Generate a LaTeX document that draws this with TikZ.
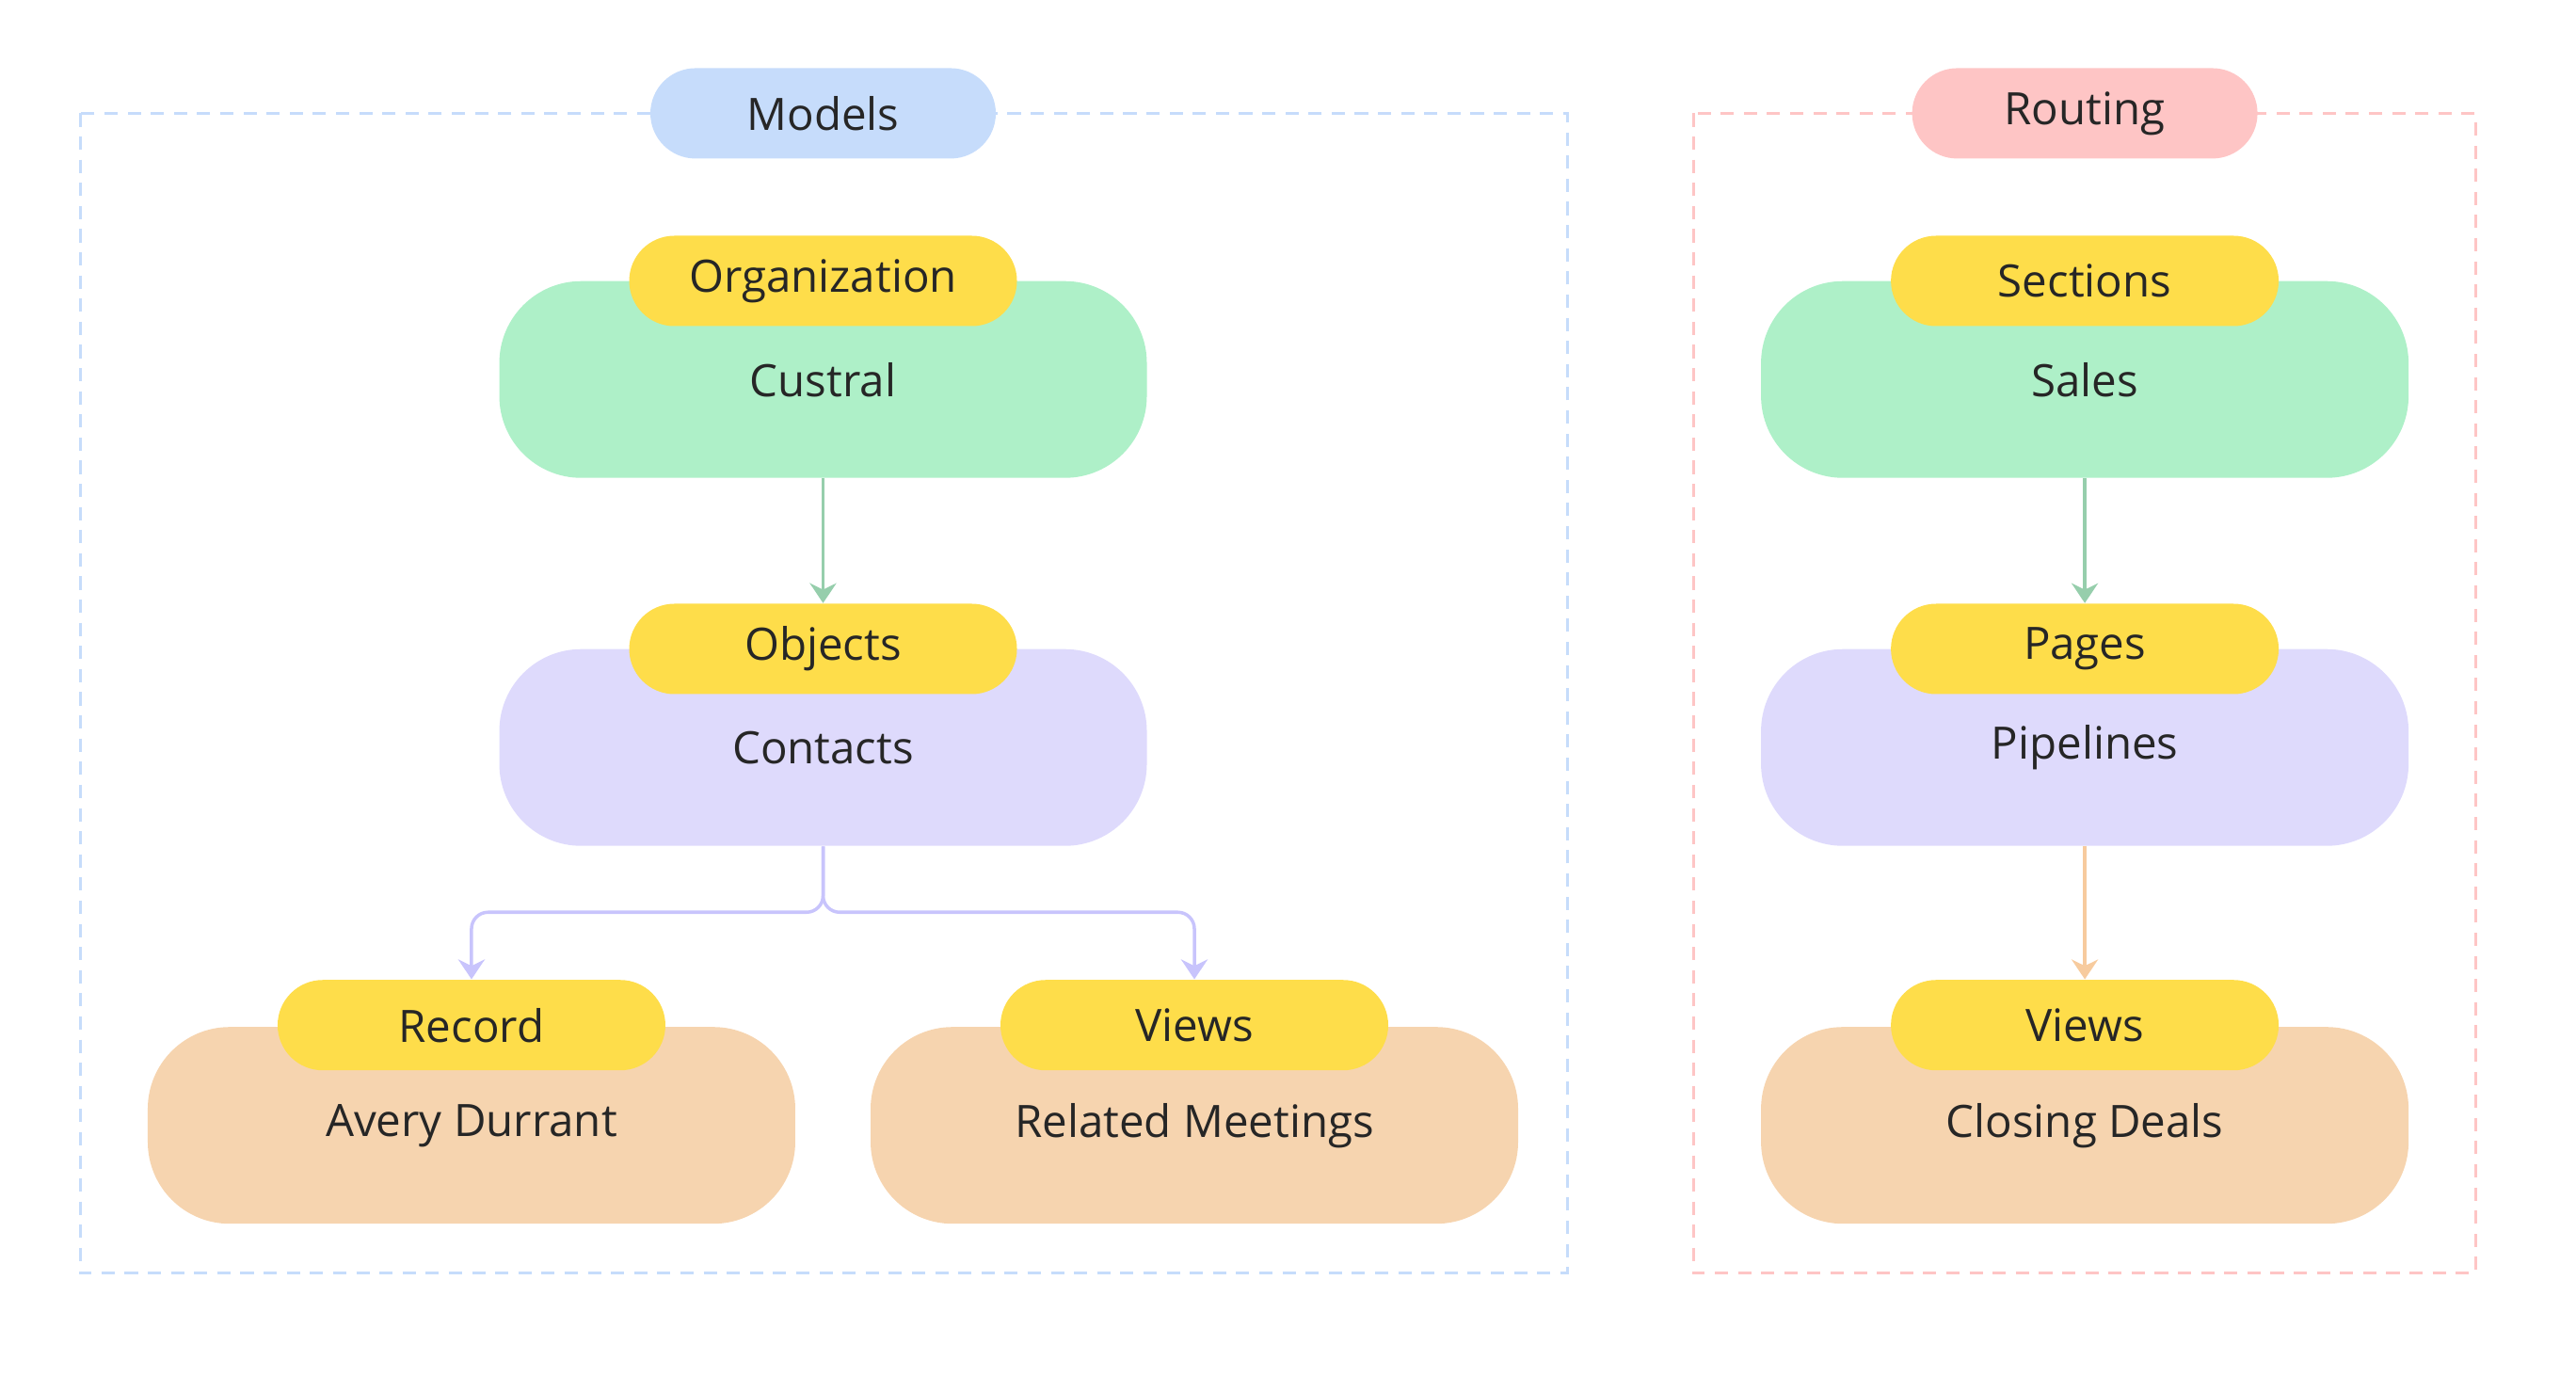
\documentclass[tikz,border=0pt]{standalone}
\usepackage{fontspec}
\setmainfont{Open Sans}
\usetikzlibrary{arrows.meta}
\definecolor{grpblue}{HTML}{C6DCFB}
\definecolor{grpred}{HTML}{FEC5C5}
\definecolor{tagyellow}{HTML}{FEDD4A}
\definecolor{bodygreen}{HTML}{AEF0C8}
\definecolor{bodylav}{HTML}{DEDAFC}
\definecolor{bodypeach}{HTML}{F6D4AF}
\begin{document}
\begin{tikzpicture}[
        x=0.017455cm, y=-0.017455cm,
        every node/.style={font=\fontsize{13.5}{16}\selectfont, text=black!85},
        body/.style={rounded corners=0.87cm, minimum width=6.88cm, minimum height=2.09cm, inner sep=0pt},
        tag/.style={fill=tagyellow, rounded corners=0.48cm, minimum width=4.12cm, minimum height=0.96cm, inner sep=0pt},
        title/.style={rounded corners=0.48cm, minimum width=3.67cm, minimum height=0.96cm, inner sep=0pt},
        group/.style={dashed, dash pattern=on 4pt off 3pt, line width=0.8pt},
        link/.style={line width=1pt, -{Stealth[length=6pt,width=8pt]}}
    ]
    \useasboundingbox (0,0) rectangle (1568,837);
    % groups
    \draw[group, grpblue] (49,69) rectangle (954,775);
    \draw[group, grpred] (1031,69) rectangle (1507,775);
    \node[title, fill=grpblue] (models) at (501,69) {Models};
    \node[title, fill=grpred] (routing) at (1269,69) {Routing};
    % models
    \node[body, fill=bodygreen] (custral) at (501,231) {Custral};
    \node[tag] (org) at (501,171) {Organization};
    \node[body, fill=bodylav] (contacts) at (501,455) {Contacts};
    \node[tag] (objects) at (501,395) {Objects};
    \node[body, fill=bodypeach] (avery) at (287,685) {Avery Durrant};
    \node[tag] (record) at (287,624) {Record};
    \node[body, fill=bodypeach] (meetings) at (727,685) {Related Meetings};
    \node[tag] (views) at (727,624) {Views};
    % routing
    \node[body, fill=bodygreen] (sales) at (1269,231) {Sales};
    \node[tag] (sections) at (1269,171) {Sections};
    \node[body, fill=bodylav] (pipelines) at (1269,455) {Pipelines};
    \node[tag] (pages) at (1269,395) {Pages};
    \node[body, fill=bodypeach] (closing) at (1269,685) {Closing Deals};
    \node[tag] (rviews) at (1269,624) {Views};
    % links
    \draw[link, bodygreen!80!black!70!bodygreen] (custral.south) -- (objects.north);
    \draw[link, bodygreen!80!black!70!bodygreen] (sales.south) -- (pages.north);
    \draw[link, bodypeach!90!orange] (pipelines.south) -- (rviews.north);
    \draw[link, bodylav!90!blue, rounded corners=5pt] (contacts.south) -- ++(0,40) -| (record.north);
    \draw[link, bodylav!90!blue, rounded corners=5pt] (contacts.south) -- ++(0,40) -| (views.north);
\end{tikzpicture}
\end{document}
